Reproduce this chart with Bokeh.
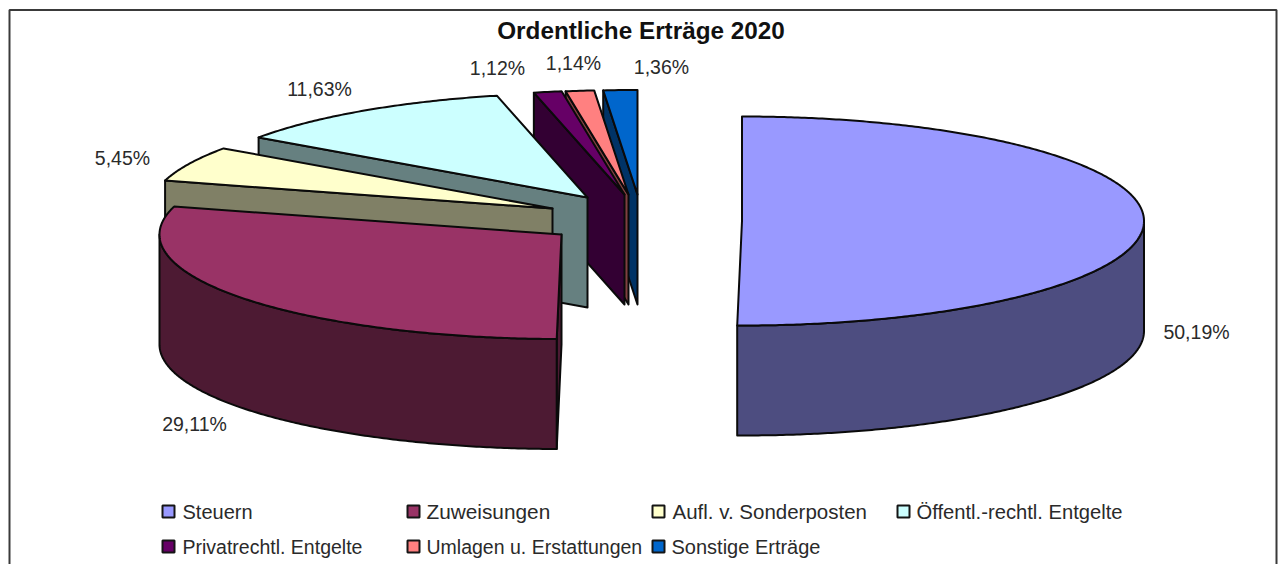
from math import sin, cos, radians
from bokeh.plotting import figure
from bokeh.models import Range1d, ColumnDataSource
from bokeh.core.properties import value
from bokeh.embed import file_html
from bokeh.resources import INLINE

# Data
categories = ["Steuern", "Zuweisungen", "Aufl. v. Sonderposten", "Öffentl.-rechtl. Entgelte",
              "Privatrechtl. Entgelte", "Umlagen u. Erstattungen", "Sonstige Erträge"]
shares = [50.19, 29.11, 5.45, 11.63, 1.12, 1.14, 1.36]
share_labels = ["50,19%", "29,11%", "5,45%", "11,63%", "1,12%", "1,14%", "1,36%"]
title_text = "Ordentliche Erträge 2020"

# Styles
top_colors = ["#9999FF", "#993366", "#FFFFCC", "#CCFFFF", "#660066", "#FF8080", "#0066CC"]
side_colors = ["#4D4D80", "#4D1A33", "#808066", "#668080", "#330033", "#804040", "#003366"]

# Layout (page pixel coordinates)
W, H = 1279, 564
RX, RY, DEPTH = 402, 104.5, 110
apex_x = [741.5, 561, 552, 587, 624, 628, 637]
apex_y = [220.5, 234, 208, 197, 194, 194, 194]
label_x = [1196, 194, 122, 319, 497, 573, 661]
label_y = [331, 423, 157, 88, 67, 62, 66]
swatch_x = [162, 407, 652, 897, 162, 407, 652]
swatch_y = [511, 511, 511, 511, 546, 546, 546]
legend_x = [182, 426, 672, 916, 182, 426, 671]
legend_sizes = ["20px", "20.8px", "20.5px", "20.2px", "19.5px", "19.5px", "20px"]

p = figure(width=W, height=H, output_backend="svg", toolbar_location=None,
           x_range=Range1d(0, W), y_range=Range1d(H, 0), min_border=0,
           outline_line_color=None, background_fill_color="white")
p.axis.visible = False
p.grid.visible = False

# frame of the chart area
p.line([9, 9, 1276, 1276], [H, 9.5, 9.5, H], line_color="#3a3a3a", line_width=2)


def rim(cx, cy, t, dy=0.0):
    a = radians(t)
    return cx + RX * sin(a), cy - RY * cos(a) + dy


def arc(cx, cy, t0, t1, dy=0.0):
    n = max(2, int(abs(t1 - t0) * 2))
    pts = [rim(cx, cy, t0 + (t1 - t0) * i / n, dy) for i in range(n + 1)]
    return [q[0] for q in pts], [q[1] for q in pts]


# start / end angle of every slice, clockwise from twelve o'clock
total = sum(shares)
starts, ends, acc = [], [], 0.0
for s in shares:
    starts.append(acc / total * 360)
    acc += s
    ends.append(acc / total * 360)

xs, ys, fills = [], [], []
# back to front: last slices sit at the back, the first one last
for i in [6, 5, 4, 3, 2, 1, 0]:
    cx, cy, t0, t1 = apex_x[i], apex_y[i], starts[i], ends[i]
    # cut faces that look towards the viewer
    if 180 < t0 < 360:
        ex, ey = rim(cx, cy, t0)
        xs.append([cx, ex, ex, cx]); ys.append([cy, ey, ey + DEPTH, cy + DEPTH]); fills.append(side_colors[i])
    if 0 < t1 < 180:
        ex, ey = rim(cx, cy, t1)
        xs.append([cx, ex, ex, cx]); ys.append([cy, ey, ey + DEPTH, cy + DEPTH]); fills.append(side_colors[i])
    # outer wall: only the front half of the rim shows
    a0, a1 = max(t0, 90), min(t1, 270)
    if a1 > a0:
        ax, ay = arc(cx, cy, a0, a1)
        bx, by = arc(cx, cy, a1, a0, DEPTH)
        xs.append(ax + bx); ys.append(ay + by); fills.append(side_colors[i])
    # top surface
    ax, ay = arc(cx, cy, t0, t1)
    xs.append([cx] + ax); ys.append([cy] + ay); fills.append(top_colors[i])

p.patches(xs, ys, fill_color=fills, line_color="#0a0a0a", line_width=2, line_join="round")

# title and labels
p.text([640.5], [30], text=[title_text], text_font=value("Liberation Sans"), text_font_style="bold",
       text_font_size="24.3px", text_align="center", text_baseline="middle", text_color="#111111")
p.text(label_x, label_y, text=share_labels, text_font=value("Liberation Sans"), text_font_size="19.5px",
       text_align="center", text_baseline="middle", text_color="#2a2a2a")

# legend
p.quad(left=swatch_x, right=[v + 12 for v in swatch_x],
       top=[v - 6 for v in swatch_y], bottom=[v + 6 for v in swatch_y],
       fill_color=top_colors, line_color="#151515", line_width=2)
legend_source = ColumnDataSource(dict(x=legend_x, y=swatch_y, t=categories, s=legend_sizes))
p.text("x", "y", text="t", source=legend_source, text_font=value("Liberation Sans"), text_font_size="s",
       text_align="left", text_baseline="middle", text_color="#2a2a2a")

open("out.html", "w").write(file_html(p, INLINE))
